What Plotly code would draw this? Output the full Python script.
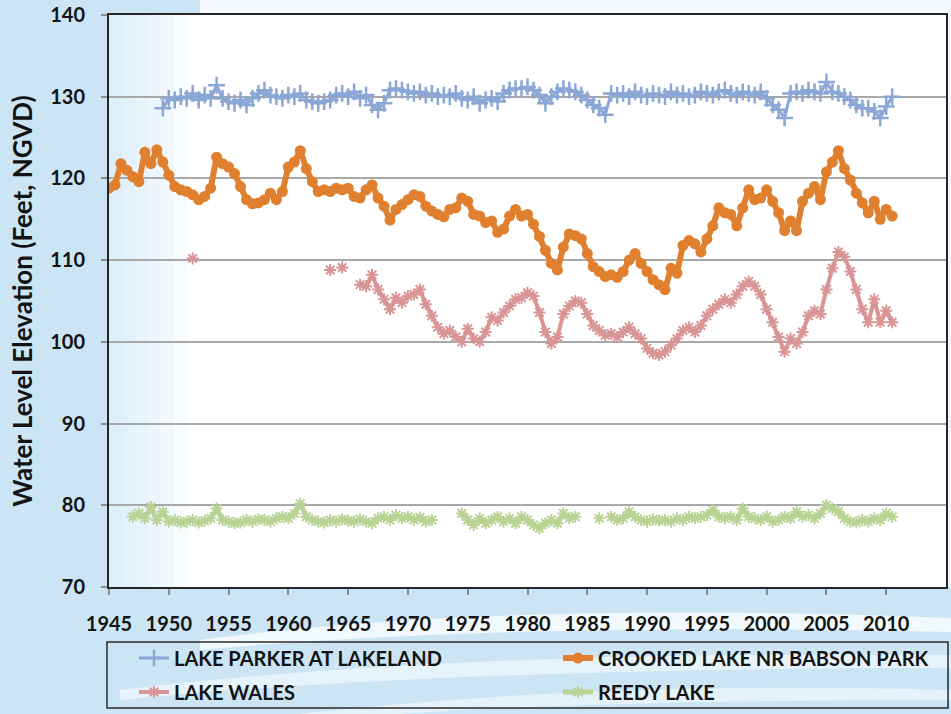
import plotly.graph_objects as go

# Half-year grid: 1945.0, 1945.5, ..., 2010.5 (132 points); each row below = 5 years
START_YEAR = 1945.0
STEP = 0.5

parker = [
    None, None, None, None, None, None, None, None, None, 128.6,
    129.8, 129.6, 130.0, 129.8, 130.4, 129.6, 130.2, 129.8, 131.4, 129.8,
    129.4, 129.2, 129.6, 129.0, 129.8, 130.4, 130.8, 130.2, 130.0, 129.8,
    130.2, 130.0, 130.4, 129.6, 129.4, 129.2, 129.4, 129.6, 130.2, 130.4,
    130.0, 130.6, 129.8, 130.2, 129.0, 128.4, 129.2, 130.8, 131.0, 130.8,
    130.6, 130.4, 130.6, 130.2, 130.4, 130.0, 130.2, 130.0, 130.4, 129.8,
    129.6, 130.0, 129.2, 129.6, 129.8, 129.4, 130.4, 130.8, 131.0, 131.0,
    131.2, 130.8, 130.2, 129.2, 130.0, 130.6, 131.0, 130.8, 130.6, 130.2,
    129.6, 129.0, 128.6, 127.8, 130.4, 130.2, 130.4, 130.0, 130.6, 130.2,
    130.0, 130.4, 130.2, 130.0, 130.6, 130.2, 130.4, 130.0, 130.2, 130.6,
    130.4, 130.2, 130.6, 130.8, 130.4, 130.2, 130.6, 130.4, 130.2, 130.6,
    129.8, 129.0, 128.4, 127.4, 130.4, 130.6, 130.4, 130.8, 130.6, 130.4,
    131.8, 130.6, 130.4, 130.0, 129.6, 129.0, 128.6, 128.6, 128.2, 127.4,
    128.8, 130.0,
]

crooked = [
    118.8, 119.2, 121.8, 121.0, 120.2, 119.6, 123.2, 121.8, 123.5, 122.0,
    120.4, 119.0, 118.6, 118.4, 118.0, 117.4, 117.8, 118.8, 122.6, 121.8,
    121.4, 120.6, 119.0, 117.4, 116.9, 117.0, 117.4, 118.2, 117.4, 118.4,
    121.4, 122.0, 123.4, 121.2, 119.6, 118.4, 118.6, 118.4, 118.8, 118.6,
    118.8, 117.8, 117.6, 118.6, 119.2, 117.6, 116.6, 114.9, 116.2, 116.8,
    117.4, 118.0, 117.8, 116.6, 116.0, 115.6, 115.3, 116.2, 116.4, 117.6,
    117.2, 115.6, 115.4, 114.6, 114.8, 113.4, 113.8, 115.4, 116.2, 115.4,
    115.6, 114.4, 112.9, 111.2, 109.6, 108.8, 111.6, 113.2, 113.0, 112.6,
    110.8, 109.2, 108.6, 108.0, 108.2, 107.9, 108.6, 110.0, 110.8, 109.6,
    108.6, 107.6, 107.0, 106.4, 109.0, 108.4, 111.8, 112.4, 112.0, 111.0,
    112.6, 114.2, 116.4, 115.8, 115.6, 114.2, 116.4, 118.6, 117.4, 117.6,
    118.6, 117.2, 115.8, 113.6, 114.8, 113.6, 117.2, 118.2, 119.0, 117.4,
    120.8, 122.0, 123.4, 121.2, 119.8, 118.2, 117.0, 115.8, 117.2, 115.0,
    116.2, 115.4,
]

wales = [
    None, None, None, None, None, None, None, None, None, None,
    None, None, None, None, 110.2, None, None, None, None, None,
    None, None, None, None, None, None, None, None, None, None,
    None, None, None, None, None, None, None, 108.8, None, 109.1,
    None, None, 107.0, 106.8, 108.2, 106.4, 105.2, 104.0, 105.4, 104.8,
    105.6, 105.8, 106.4, 104.6, 103.2, 101.8, 101.0, 101.4, 100.6, 100.0,
    101.6, 100.4, 100.0, 101.2, 103.0, 102.6, 103.6, 104.4, 105.2, 105.4,
    106.0, 105.6, 103.6, 101.2, 99.8, 100.6, 103.4, 104.4, 105.0, 104.8,
    103.4, 102.0, 101.4, 100.8, 101.0, 100.6, 101.2, 101.8, 101.0, 100.4,
    99.2, 98.6, 98.4, 98.8, 99.6, 100.4, 101.4, 101.8, 101.2, 102.0,
    103.2, 104.0, 104.6, 105.2, 104.8, 105.8, 106.8, 107.4, 106.8, 105.8,
    104.0, 102.4, 100.6, 98.8, 100.4, 99.8, 101.2, 103.2, 103.8, 103.4,
    106.4, 109.0, 111.0, 110.4, 108.6, 106.4, 104.0, 102.4, 105.2, 102.4,
    103.8, 102.4,
]

reedy = [
    None, None, None, None, 78.6, 79.0, 78.4, 79.8, 78.2, 79.2,
    78.0, 78.2, 77.9, 78.0, 78.2, 77.9, 78.1, 78.4, 79.6, 78.2,
    78.0, 77.8, 77.9, 78.2, 78.0, 78.3, 78.2, 78.0, 78.4, 78.6,
    78.4, 79.0, 80.2, 78.6, 78.2, 78.0, 77.9, 78.2, 78.0, 78.3,
    78.1, 78.0, 78.3, 78.0, 77.8, 78.4, 78.6, 78.2, 78.8, 78.4,
    78.6, 78.2, 78.5, 78.0, 78.2, None, None, None, None, 79.0,
    78.2, 77.6, 78.4, 77.8, 78.2, 78.6, 78.0, 78.4, 77.8, 78.6,
    78.2, 77.6, 77.2, 77.8, 78.2, 77.8, 79.0, 78.4, 78.6, None,
    None, None, 78.4, None, 78.6, 78.2, 78.4, 79.2, 78.6, 78.2,
    78.0, 78.3, 78.1, 78.2, 78.0, 78.4, 78.2, 78.6, 78.4, 78.6,
    78.8, 79.4, 78.6, 78.4, 78.6, 78.2, 79.6, 78.6, 78.4, 78.2,
    78.6, 78.0, 78.2, 78.6, 78.4, 79.2, 78.6, 78.8, 78.4, 79.0,
    80.0, 79.6, 79.2, 78.4, 78.0, 77.9, 78.2, 78.0, 78.4, 78.2,
    79.0, 78.6,
]

series_names = ["LAKE PARKER AT LAKELAND", "CROOKED LAKE NR BABSON PARK",
                "LAKE WALES", "REEDY LAKE"]
x_ticks = [1945, 1950, 1955, 1960, 1965, 1970, 1975, 1980, 1985, 1990, 1995, 2000, 2005, 2010]
y_ticks = [70, 80, 90, 100, 110, 120, 130, 140]


def years_for(vals):
    return [START_YEAR + STEP * i for i in range(len(vals))]


FONT = "Lato"
TXT = "#141414"


# plot area in pixels: x 109..946, y 15..587
def px(x):
    return (x - 109) / 837.0


def py(y):
    return (587 - y) / 572.0


styles = [
    dict(data=parker, color="#8aa7d6", sym="cross-thin", size=12, mlw=2.5, lw=3, legend="legend"),
    dict(data=crooked, color="#e0802f", sym="circle", size=11, mlw=0, lw=6, legend="legend2"),
    dict(data=wales, color="#d99595", sym="asterisk", size=10, mlw=2, lw=4, legend="legend3"),
    dict(data=reedy, color="#b9d395", sym="asterisk", size=10, mlw=2, lw=5, legend="legend4"),
]

fig = go.Figure()
for name, st in zip(series_names, styles):
    fig.add_trace(go.Scatter(
        x=years_for(st["data"]), y=st["data"], name=name, mode="lines+markers",
        line=dict(color=st["color"], width=st["lw"]),
        marker=dict(symbol=st["sym"], size=st["size"], color=st["color"],
                    line=dict(color=st["color"], width=st["mlw"])),
        legend=st["legend"], connectgaps=False,
    ))

shapes = []
shapes.append(dict(type="rect", xref="paper", yref="paper", x0=px(200), x1=px(951), y0=py(15), y1=py(0),
                   fillcolor="#f4fafd", line_width=0, layer="below"))
shapes.append(dict(type="rect", xref="paper", yref="paper", x0=px(946), x1=px(951), y0=py(587), y1=py(15),
                   fillcolor="#eef7fc", line_width=0, layer="below"))
strip_cols = ["#ddeff9", "#e2f1fa", "#e7f4fb", "#ecf6fc", "#f2f9fd", "#f8fcfe"]
for i, c in enumerate(strip_cols):
    shapes.append(dict(type="rect", xref="paper", yref="paper",
                       x0=px(109 + i * 13), x1=px(109 + (i + 1) * 13), y0=0, y1=1,
                       fillcolor=c, line_width=0, layer="below"))
shapes.append(dict(type="path", xref="paper", yref="paper",
                   path=f"M {px(200)},{py(640)} Q {px(500)},{py(600)} {px(951)},{py(618)} L {px(951)},{py(632)} Q {px(500)},{py(622)} {px(200)},{py(650)} Z",
                   fillcolor="rgba(255,255,255,0.75)", line_width=0, layer="below"))
shapes.append(dict(type="path", xref="paper", yref="paper",
                   path=f"M {px(120)},{py(690)} Q {px(450)},{py(650)} {px(951)},{py(655)} L {px(951)},{py(668)} Q {px(450)},{py(668)} {px(120)},{py(700)} Z",
                   fillcolor="rgba(255,255,255,0.55)", line_width=0, layer="below"))
shapes.append(dict(type="path", xref="paper", yref="paper",
                   path=f"M {px(300)},{py(714)} Q {px(600)},{py(680)} {px(951)},{py(690)} L {px(951)},{py(700)} Q {px(600)},{py(700)} {px(400)},{py(714)} Z",
                   fillcolor="rgba(255,255,255,0.5)", line_width=0, layer="below"))
shapes.append(dict(type="rect", xref="paper", yref="paper", x0=px(107), x1=px(948), y0=py(708), y1=py(642),
                   line=dict(color="#2a2a2a", width=1.5), fillcolor="rgba(0,0,0,0)", layer="above"))

leg_common = dict(orientation="h", xanchor="left", yanchor="middle",
                  bgcolor="rgba(0,0,0,0)", borderwidth=0,
                  font=dict(family=FONT, size=20, color=TXT, weight="bold"),
                  itemwidth=30)

fig.update_layout(
    width=951, height=714,
    margin=dict(l=109, r=5, t=15, b=127, autoexpand=False),
    paper_bgcolor="#cbe5f4",
    plot_bgcolor="#ffffff",
    showlegend=True,
    legend=dict(x=px(134), y=py(658), **leg_common),
    legend2=dict(x=px(558), y=py(658), **leg_common),
    legend3=dict(x=px(134), y=py(692), **leg_common),
    legend4=dict(x=px(558), y=py(692), **leg_common),
    shapes=shapes,
    xaxis=dict(range=[1945, 2015], tickvals=x_ticks, ticktext=[str(t) for t in x_ticks],
               showgrid=False, zeroline=False, automargin=False,
               ticks="outside", ticklen=6, tickwidth=1.5, tickcolor="#8c8c8c",
               showline=True, linecolor="#262626", linewidth=2, mirror=True,
               ticklabelstandoff=12,
               tickfont=dict(family=FONT, size=20, color=TXT, weight="bold")),
    yaxis=dict(range=[70, 140], tickvals=y_ticks, showgrid=True, gridcolor="#a8a8a8", gridwidth=2,
               zeroline=False, automargin=False, ticks="outside", ticklen=6, tickwidth=1.5, tickcolor="#8c8c8c",
               showline=True, linecolor="#262626", linewidth=2, mirror=True,
               ticklabelstandoff=12,
               tickfont=dict(family=FONT, size=20, color=TXT, weight="bold"),
               title=dict(text="Water Level Elevation (Feet, NGVD)", standoff=10,
                          font=dict(family=FONT, size=26, color=TXT, weight="bold"))),
)

fig.write_html("out.html", config={"displayModeBar": False},
               post_script="document.body.style.margin='0px';")
